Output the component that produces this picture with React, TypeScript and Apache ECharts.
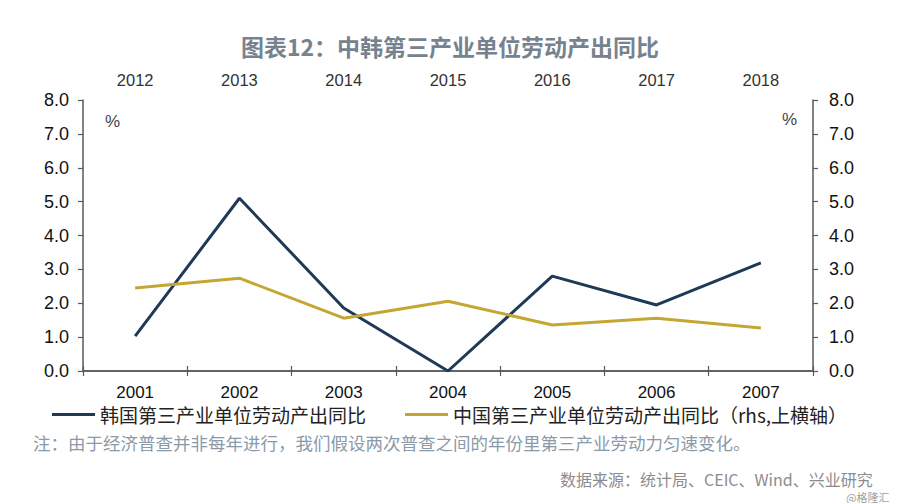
import React, { useEffect, useRef } from "react";
import * as echarts from "echarts";

const koreaYears = ["2001", "2002", "2003", "2004", "2005", "2006", "2007"];
const chinaYears = ["2012", "2013", "2014", "2015", "2016", "2017", "2018"];
const koreaValues = [1.03, 5.1, 1.86, 0.0, 2.8, 1.95, 3.19];
const chinaValues = [2.45, 2.74, 1.56, 2.06, 1.36, 1.56, 1.27];
const koreaName = "韩国第三产业单位劳动产出同比";
const chinaName = "中国第三产业单位劳动产出同比（rhs,上横轴）";

const axisColor = "#595959";
const cjk = "'Noto Sans CJK SC', 'Noto Sans', sans-serif";
const latin = "'Liberation Sans', Arial, sans-serif";

export default function App() {
  const ref = useRef<HTMLDivElement>(null);
  useEffect(() => {
    if (!ref.current) return;
    const chart = echarts.init(ref.current, null, { renderer: "svg" });
    const yAxisBase = (position: "left" | "right", margin: number) => ({
      type: "value",
      position,
      min: 0,
      max: 8,
      interval: 1,
      axisLine: { show: true, lineStyle: { color: axisColor, width: 1.5 } },
      axisTick: { show: true, length: 5, lineStyle: { color: axisColor, width: 1.2 } },
      splitLine: { show: false },
      axisLabel: {
        margin,
        fontSize: 18,
        color: "#111",
        fontFamily: latin,
        formatter: (v: number) => v.toFixed(1),
      },
    });
    const legendBase = {
      top: 405,
      padding: 0,
      itemWidth: 43,
      itemHeight: 3,
      icon: "rect",
      itemGap: 5,
      textStyle: { fontFamily: cjk, fontSize: 19, color: "#222" },
    };
    chart.setOption({
      animation: false,
      backgroundColor: "#ffffff",
      grid: { left: 83, right: 87, top: 100, bottom: 132, containLabel: false },
      title: {
        text: "图表12：中韩第三产业单位劳动产出同比",
        left: "center",
        top: 29,
        textStyle: { fontFamily: cjk, fontSize: 23, fontWeight: "bold", color: "#76838e" },
      },
      legend: [
        { ...legendBase, data: [koreaName], left: 52 },
        { ...legendBase, data: [chinaName], left: 405 },
      ],
      xAxis: [
        {
          type: "category",
          position: "bottom",
          data: koreaYears,
          boundaryGap: true,
          axisLine: { show: true, lineStyle: { color: axisColor, width: 1.5 } },
          axisTick: { show: true, length: 5, lineStyle: { color: axisColor, width: 1.2 } },
          axisLabel: { margin: 13, fontSize: 17, color: "#111", fontFamily: latin },
        },
        {
          type: "category",
          position: "top",
          data: chinaYears,
          boundaryGap: true,
          axisLine: { show: true, lineStyle: { color: axisColor, width: 1.5 } },
          axisTick: { show: true, length: 5, lineStyle: { color: axisColor, width: 1.2 } },
          axisLabel: { margin: 12, fontSize: 16.5, color: "#333", fontFamily: latin },
        },
      ],
      yAxis: [yAxisBase("left", 14), yAxisBase("right", 16)],
      series: [
        {
          name: koreaName,
          type: "line",
          xAxisIndex: 0,
          yAxisIndex: 0,
          data: koreaValues,
          symbol: "none",
          lineStyle: { color: "#1f3a56", width: 3 },
          itemStyle: { color: "#1f3a56" },
        },
        {
          name: chinaName,
          type: "line",
          xAxisIndex: 1,
          yAxisIndex: 1,
          data: chinaValues,
          symbol: "none",
          lineStyle: { color: "#c4a632", width: 3 },
          itemStyle: { color: "#c4a632" },
        },
      ],
      graphic: [
        {
          type: "text",
          left: 105,
          top: 113,
          style: { text: "%", fontSize: 17, fill: "#444", fontFamily: latin },
        },
        {
          type: "text",
          left: 782,
          top: 111,
          style: { text: "%", fontSize: 17, fill: "#444", fontFamily: latin },
        },
        {
          type: "text",
          left: 33,
          top: 434,
          style: {
            text: "注：由于经济普查并非每年进行，我们假设两次普查之间的年份里第三产业劳动力匀速变化。",
            fontSize: 17.5,
            fill: "#8a9aa8",
            fontFamily: cjk,
          },
        },
        {
          type: "text",
          left: 560,
          top: 471,
          style: {
            text: "数据来源：统计局、CEIC、Wind、兴业研究",
            fontSize: 16,
            fill: "#8c8c8c",
            fontFamily: cjk,
          },
        },
        {
          type: "text",
          left: 846,
          top: 491,
          style: { text: "@格隆汇", fontSize: 11, fill: "#a0a0a0", fontFamily: cjk },
        },
      ],
    });
    return () => chart.dispose();
  }, []);
  return (
    <div
      ref={ref}
      style={{ position: "absolute", left: 0, top: 0, width: 900, height: 503 }}
    />
  );
}
